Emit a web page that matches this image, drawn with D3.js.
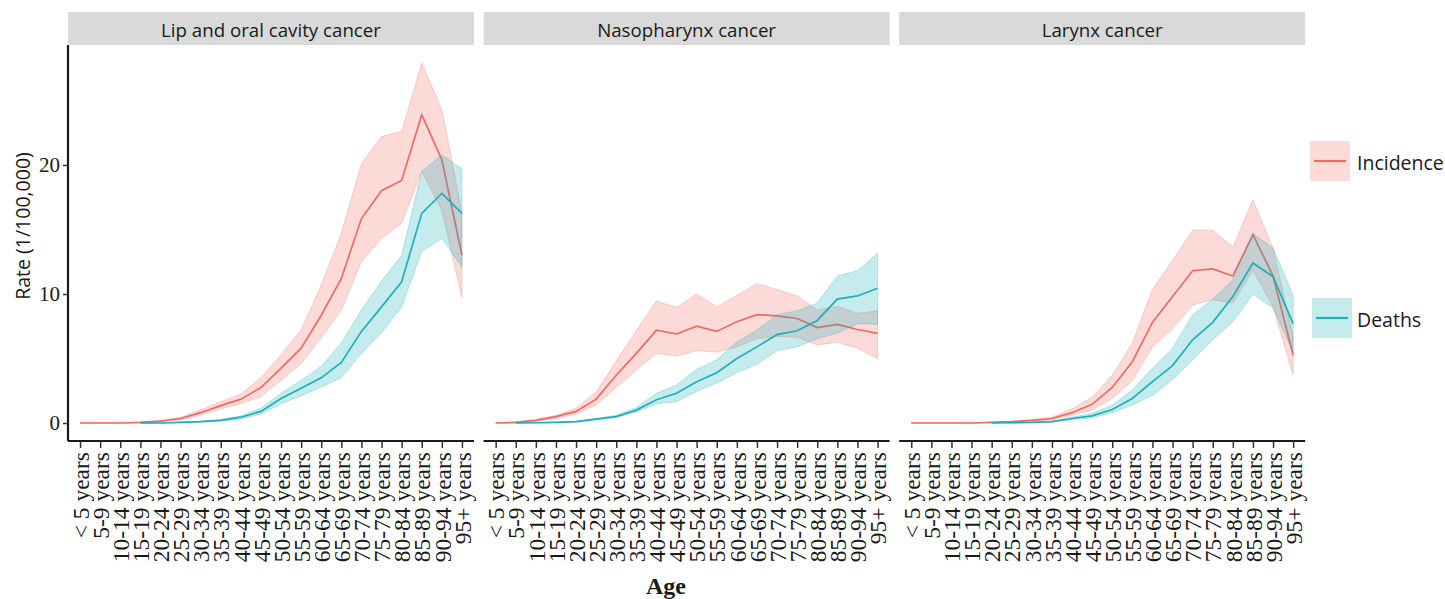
<!DOCTYPE html>
<html>
<head>
<meta charset="utf-8">
<script src="https://cdn.jsdelivr.net/npm/d3@7"></script>
<style>
  body { margin: 0; background: #fff; }
  svg { display: block; }
</style>
</head>
<body>
<div id="chart"></div>
<script>
// age groups on the x axis
const ages = ["< 5 years", "5-9 years", "10-14 years", "15-19 years", "20-24 years", "25-29 years",
  "30-34 years", "35-39 years", "40-44 years", "45-49 years", "50-54 years", "55-59 years",
  "60-64 years", "65-69 years", "70-74 years", "75-79 years", "80-84 years", "85-89 years",
  "90-94 years", "95+ years"];

const panels = ["Lip and oral cavity cancer", "Nasopharynx cancer", "Larynx cancer"];
const yTicks = [0, 10, 20];

// Lip and oral cavity
const lipInc   = [0, 0, 0, 0.05, 0.15, 0.35, 0.8, 1.35, 1.85, 2.75, 4.25, 5.8, 8.35, 11.2, 15.85, 18.0, 18.8, 23.9, 20.4, 13.0];
const lipIncHi = [0, 0, 0, 0.07, 0.2, 0.45, 1.0, 1.65, 2.25, 3.5, 5.3, 7.2, 10.7, 14.7, 20.1, 22.2, 22.6, 27.9, 24.3, 16.3];
const lipIncLo = [0, 0, 0, 0.03, 0.1, 0.25, 0.6, 1.1, 1.5, 2.05, 3.3, 4.6, 6.6, 8.75, 12.5, 14.3, 15.5, 19.5, 16.5, 9.7];
const lipDth   = [null, null, null, 0, 0, 0.05, 0.1, 0.2, 0.45, 0.9, 1.9, 2.7, 3.5, 4.7, 7.1, 9.0, 10.95, 16.25, 17.8, 16.25];
const lipDthHi = [null, null, null, 0.01, 0.02, 0.07, 0.14, 0.28, 0.55, 1.15, 2.3, 3.3, 4.4, 6.2, 8.75, 11.0, 13.0, 19.5, 20.8, 19.7];
const lipDthLo = [null, null, null, 0, 0, 0.03, 0.07, 0.15, 0.3, 0.7, 1.5, 2.1, 2.8, 3.5, 5.4, 7.0, 9.0, 13.3, 14.3, 12.1];

// Nasopharynx
const nasoInc   = [0, 0.05, 0.2, 0.5, 0.9, 1.85, 3.7, 5.4, 7.2, 6.9, 7.5, 7.1, 7.85, 8.4, 8.3, 8.1, 7.4, 7.65, 7.25, 6.95];
const nasoIncHi = [0, 0.1, 0.3, 0.6, 1.15, 2.4, 4.8, 7.15, 9.45, 8.95, 10.0, 9.0, 9.9, 10.8, 10.35, 9.85, 8.75, 9.05, 8.5, 8.7];
const nasoIncLo = [0, 0, 0.1, 0.35, 0.7, 1.4, 2.75, 4.1, 5.4, 5.2, 5.6, 5.5, 5.9, 6.55, 6.7, 6.65, 6.05, 6.25, 5.8, 5.0];
const nasoDth   = [null, 0, 0.02, 0.05, 0.1, 0.3, 0.5, 1.0, 1.8, 2.3, 3.2, 3.9, 5.0, 5.9, 6.85, 7.15, 7.95, 9.6, 9.85, 10.45];
const nasoDthHi = [null, 0.01, 0.03, 0.07, 0.13, 0.35, 0.6, 1.2, 2.3, 2.95, 4.15, 4.9, 6.3, 7.2, 8.4, 8.7, 9.3, 11.4, 11.8, 13.15];
const nasoDthLo = [null, 0, 0.01, 0.03, 0.08, 0.25, 0.45, 0.85, 1.5, 1.65, 2.45, 3.1, 3.9, 4.55, 5.6, 5.9, 6.55, 6.95, 7.7, 7.65];

// Larynx
const larInc   = [0, 0, 0, 0, 0.05, 0.1, 0.2, 0.35, 0.8, 1.45, 2.75, 4.75, 7.8, 9.8, 11.8, 11.95, 11.4, 14.6, 11.4, 5.25];
const larIncHi = [0, 0, 0, 0, 0.07, 0.13, 0.27, 0.45, 1.1, 2.0, 3.7, 6.2, 10.35, 12.6, 14.95, 14.95, 13.65, 17.3, 13.55, 6.7];
const larIncLo = [0, 0, 0, 0, 0.03, 0.07, 0.14, 0.25, 0.6, 1.0, 1.9, 3.3, 5.9, 7.3, 9.15, 9.55, 9.3, 11.85, 9.0, 3.7];
const larDth   = [null, null, null, null, 0, 0.02, 0.05, 0.1, 0.35, 0.55, 1.05, 1.9, 3.2, 4.45, 6.45, 7.8, 9.8, 12.4, 11.35, 7.7];
const larDthHi = [null, null, null, null, 0.01, 0.03, 0.07, 0.14, 0.45, 0.75, 1.4, 2.55, 4.25, 5.8, 8.4, 9.6, 11.1, 14.7, 13.55, 9.9];
const larDthLo = [null, null, null, null, 0, 0.01, 0.03, 0.07, 0.25, 0.4, 0.8, 1.4, 2.15, 3.35, 4.9, 6.45, 7.85, 10.0, 8.9, 5.5];

const series = [
  {inc: [lipInc, lipIncLo, lipIncHi], dth: [lipDth, lipDthLo, lipDthHi]},
  {inc: [nasoInc, nasoIncLo, nasoIncHi], dth: [nasoDth, nasoDthLo, nasoDthHi]},
  {inc: [larInc, larIncLo, larIncHi], dth: [larDth, larDthLo, larDthHi]}
];

const incColor = "#EE6B63";
const dthColor = "#1DB0B8";
const sans = "'Open Sans', sans-serif";
const serif = "'Liberation Serif', 'Times New Roman', serif";

const width = 1445, height = 599;
const panelW = 406, panelGap = 9.6, left0 = 68;
const stripTop = 12, stripBot = 45, plotBot = 441;

const svg = d3.select("#chart").append("svg")
    .attr("width", width)
    .attr("height", height);

const yScale = d3.scaleLinear()
    .domain([-1.395, 29.3])
    .range([plotBot, stripBot]);

panels.forEach((name, p) => {
    const x0 = left0 + p * (panelW + panelGap);
    const xScale = d3.scalePoint()
        .domain(ages)
        .range([x0, x0 + panelW])
        .padding(0.6);

    const g = svg.append("g");

    // strip
    g.append("rect")
        .attr("x", x0).attr("y", stripTop)
        .attr("width", panelW).attr("height", stripBot - stripTop)
        .attr("fill", "#D9D9D9");
    g.append("text")
        .attr("x", x0 + panelW / 2).attr("y", (stripTop + stripBot) / 2 + 1)
        .attr("text-anchor", "middle")
        .attr("dominant-baseline", "central")
        .style("font-family", sans).style("font-size", "18.7px")
        .attr("fill", "#1a1a1a")
        .text(name);

    const s = series[p];
    const drawGroup = (arr, color) => {
        const rows = ages.map((a, i) => ({age: a, v: arr[0][i], lo: arr[1][i], hi: arr[2][i]}))
            .filter(d => d.v !== null);
        const area = d3.area()
            .x(d => xScale(d.age))
            .y0(d => yScale(d.lo))
            .y1(d => yScale(d.hi));
        const line = d3.line()
            .x(d => xScale(d.age))
            .y(d => yScale(d.v));
        g.append("path")
            .datum(rows)
            .attr("d", area)
            .attr("fill", color)
            .attr("fill-opacity", 0.25)
            .attr("stroke", color)
            .attr("stroke-opacity", 0.35)
            .attr("stroke-width", 0.8);
        g.append("path")
            .datum(rows)
            .attr("d", line)
            .attr("fill", "none")
            .attr("stroke", color)
            .attr("stroke-width", 1.7);
    };
    drawGroup(s.inc, incColor);
    drawGroup(s.dth, dthColor);

    // x axis
    const xAxis = g.append("g")
        .attr("transform", `translate(0,${plotBot})`)
        .call(d3.axisBottom(xScale).tickSize(7).tickSizeOuter(0));
    xAxis.attr("font-family", null).attr("font-size", null);
    xAxis.select(".domain").attr("stroke", "#1a1a1a").attr("stroke-width", 2.2)
        .attr("d", `M${x0},0H${x0 + panelW}`);
    xAxis.selectAll(".tick line").attr("stroke", "#333").attr("stroke-width", 1.5);
    xAxis.selectAll(".tick text")
        .style("font-family", serif).style("font-size", "23.5px")
        .attr("fill", "#1a1a1a")
        .attr("text-anchor", "end")
        .attr("transform", "rotate(-90)")
        .attr("x", -11).attr("y", 0)
        .attr("dy", "0.35em");

    if (p === 0) {
        const yAxis = g.append("g")
            .attr("transform", `translate(${x0},0)`)
            .call(d3.axisLeft(yScale).tickValues(yTicks).tickSize(5).tickSizeOuter(0));
        yAxis.attr("font-family", null).attr("font-size", null);
        yAxis.select(".domain").attr("stroke", "#1a1a1a").attr("stroke-width", 2.2)
            .attr("d", `M0,${stripBot}V${plotBot}`);
        yAxis.selectAll(".tick line").attr("stroke", "#333").attr("stroke-width", 1.5);
        yAxis.selectAll(".tick text")
            .style("font-family", serif).style("font-size", "21px")
            .attr("fill", "#1a1a1a")
            .attr("x", -8);
    }
});

// axis titles
svg.append("text")
    .attr("transform", "translate(22,226) rotate(-90)")
    .attr("text-anchor", "middle")
    .attr("dominant-baseline", "central")
    .style("font-family", sans).style("font-size", "19.5px")
    .attr("fill", "#1a1a1a")
    .text("Rate (1/100,000)");

svg.append("text")
    .attr("x", 666).attr("y", 594)
    .attr("text-anchor", "middle")
    .style("font-family", serif).style("font-size", "24px")
    .attr("font-weight", "bold")
    .attr("fill", "#1a1a1a")
    .text("Age");

// legend
const legendItems = [
    {label: "Incidence", color: incColor, x: 1310, y: 141},
    {label: "Deaths", color: dthColor, x: 1312, y: 298}
];
const lg = svg.append("g");
legendItems.forEach(d => {
    lg.append("rect")
        .attr("x", d.x).attr("y", d.y)
        .attr("width", 40).attr("height", 40)
        .attr("fill", d.color).attr("fill-opacity", 0.25);
    lg.append("line")
        .attr("x1", d.x + 4).attr("x2", d.x + 36)
        .attr("y1", d.y + 20).attr("y2", d.y + 20)
        .attr("stroke", d.color).attr("stroke-width", 2.2);
    lg.append("text")
        .attr("x", 1357).attr("y", d.y + 21)
        .attr("dominant-baseline", "central")
        .style("font-family", sans).style("font-size", "19.5px")
        .attr("fill", "#1a1a1a")
        .text(d.label);
});
</script>
</body>
</html>
